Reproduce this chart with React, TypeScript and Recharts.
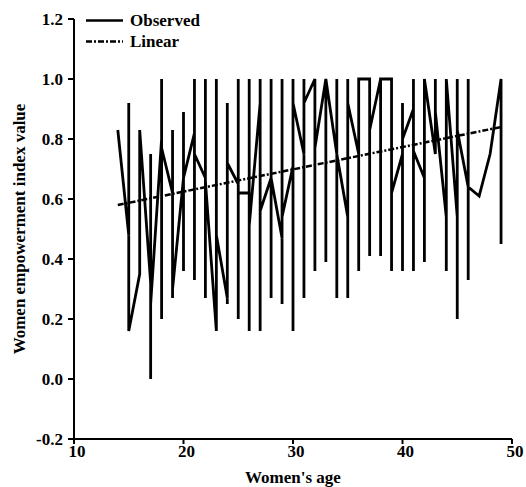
import React from 'react';
import { LineChart, Line, XAxis, YAxis, Legend } from 'recharts';

const xTicks = [10, 20, 30, 40, 50];
const yTicks = [-0.2, 0, 0.2, 0.4, 0.6, 0.8, 1.0, 1.2];

const observedAges = [
  14,
  15, 15, 15,
  16, 16,
  17, 17, 17, 17,
  18, 18, 18, 18,
  19, 19, 19, 19,
  20, 20, 20, 20,
  21, 21, 21, 21,
  22, 22, 22, 22,
  23, 23, 23,
  24, 24, 24, 24,
  25, 25, 25, 25,
  26, 26, 26, 26,
  27, 27, 27, 27,
  28, 28, 28, 28,
  29, 29, 29, 29,
  30, 30, 30, 30,
  31, 31, 31, 31,
  32, 32, 32,
  33, 33, 33,
  34, 34, 34, 34,
  35, 35, 35, 35,
  36, 36, 36,
  37, 37, 37,
  38, 38, 38,
  39, 39, 39,
  40, 40, 40, 40,
  41, 41, 41, 41,
  42, 42, 42,
  43, 43, 43,
  44, 44, 44,
  45, 45, 45, 45,
  46, 46, 46, 46,
  47,
  48,
  49, 49,
];

const observedValues = [
  0.83,
  0.48, 0.92, 0.16,
  0.35, 0.83,
  0.32, 0.75, 0.0, 0.25,
  0.8, 1.0, 0.2, 0.77,
  0.62, 0.83, 0.27, 0.3,
  0.67, 0.89, 0.36, 0.67,
  0.82, 1.0, 0.33, 0.75,
  0.67, 1.0, 0.27, 0.66,
  0.16, 1.0, 0.48,
  0.27, 0.92, 0.25, 0.72,
  0.65, 1.0, 0.2, 0.62,
  0.62, 1.0, 0.16, 0.51,
  0.92, 1.0, 0.16, 0.56,
  0.67, 1.0, 0.27, 0.67,
  0.47, 1.0, 0.25, 0.54,
  0.71, 1.0, 0.16, 0.92,
  0.75, 1.0, 0.27, 0.92,
  1.0, 0.36, 0.77,
  1.0, 0.39, 1.0,
  0.75, 1.0, 0.27, 0.75,
  0.54, 1.0, 0.27, 0.92,
  0.75, 0.36, 1.0,
  1.0, 0.41, 0.83,
  1.0, 0.41, 1.0,
  1.0, 0.36, 0.62,
  0.75, 0.92, 0.36, 0.8,
  0.9, 1.0, 0.36, 0.76,
  0.67, 0.39, 1.0,
  0.75, 1.0, 0.89,
  0.54, 0.36, 1.0,
  0.54, 0.2, 1.0, 0.83,
  0.64, 1.0, 0.33, 0.64,
  0.61,
  0.75,
  1.0, 0.45,
];

const linearAges = [14, 49];
const linearValues = [0.58, 0.84];

const seriesNames = ['Observed', 'Linear'];
const xTitle = "Women's age";
const yTitle = 'Women empowerment index value';

const observedData = observedAges.map((age, i) => ({ age, value: observedValues[i] }));
const linearData = linearAges.map((age, i) => ({ age, value: linearValues[i] }));

const FONT = "'Liberation Serif', 'Times New Roman', Times, serif";
const DASH = '6 2 2 2';
const FS = 17;

const LegendContent = () => (
  <div style={{ fontFamily: FONT, fontWeight: 'bold', fontSize: FS, color: '#000' }}>
    {seriesNames.map((name, i) => (
      <div key={name} style={{ display: 'flex', alignItems: 'center', height: 21 }}>
        <svg width={37} height={21} style={{ display: 'block' }}>
          <line x1={0} y1={10.5} x2={37} y2={10.5} stroke="#000" strokeWidth={2.4}
            strokeDasharray={i === 1 ? DASH : undefined} />
        </svg>
        <span style={{ marginLeft: 7, lineHeight: '21px' }}>{name}</span>
      </div>
    ))}
  </div>
);

const textProps = {
  fontFamily: FONT,
  fontWeight: 700,
  fontSize: FS,
  fill: '#000',
  style: { fontFamily: FONT, fontWeight: 700, fontSize: FS },
};

const XTick = (props: any) => {
  const { x, y, payload } = props;
  return (
    <text x={x + 3} y={y + 13} textAnchor="middle" {...textProps}>
      {String(payload.value)}
    </text>
  );
};

const YTick = (props: any) => {
  const { x, y, payload } = props;
  return (
    <text x={x} y={y + 6} textAnchor="end" {...textProps}>
      {Number(payload.value).toFixed(1)}
    </text>
  );
};

const XTitle = (props: any) => {
  const vb = props.viewBox || { x: 74, width: 438, y: 439, height: 48 };
  return (
    <text x={vb.x + vb.width / 2} y={vb.y + vb.height - 4} textAnchor="middle" {...textProps}>
      {xTitle}
    </text>
  );
};

const YTitle = (props: any) => {
  const vb = props.viewBox || { x: 0, width: 74, y: 19, height: 420 };
  const cx = vb.x + 25;
  const cy = vb.y + vb.height / 2;
  return (
    <text x={cx} y={cy} textAnchor="middle" transform={`rotate(-90, ${cx}, ${cy})`} {...textProps}>
      {yTitle}
    </text>
  );
};

export default function App() {
  return (
    <div style={{ position: 'absolute', left: 0, top: 0, width: 526, height: 487, background: '#fff', fontFamily: FONT }}>
      <LineChart width={526} height={487} margin={{ top: 19, right: 14, bottom: 0, left: 0 }}>
        <XAxis
          type="number"
          dataKey="age"
          domain={[10, 50]}
          ticks={xTicks}
          allowDuplicatedCategory={true}
          height={48}
          tickSize={5}
          tickMargin={0}
          axisLine={{ stroke: '#000', strokeWidth: 2 }}
          tickLine={{ stroke: '#000', strokeWidth: 2 }}
          tick={<XTick />}
          label={<XTitle />}
        />
        <YAxis
          type="number"
          domain={[-0.2, 1.2]}
          ticks={yTicks}
          width={74}
          tickSize={6}
          tickMargin={5}
          axisLine={{ stroke: '#000', strokeWidth: 2 }}
          tickLine={{ stroke: '#000', strokeWidth: 2 }}
          tick={<YTick />}
          label={<YTitle />}
        />
        <Legend
          layout="vertical"
          align="center"
          verticalAlign="middle"
          content={<LegendContent />}
          wrapperStyle={{ position: 'absolute', top: 10, left: 86, width: 'auto' }}
        />
        <Line
          data={observedData}
          dataKey="value"
          name="Observed"
          type="linear"
          stroke="#000"
          strokeWidth={2.8}
          dot={false}
          isAnimationActive={false}
        />
        <Line
          data={linearData}
          dataKey="value"
          name="Linear"
          type="linear"
          stroke="#000"
          strokeWidth={2.5}
          strokeDasharray={DASH}
          dot={false}
          isAnimationActive={false}
        />
      </LineChart>
    </div>
  );
}
